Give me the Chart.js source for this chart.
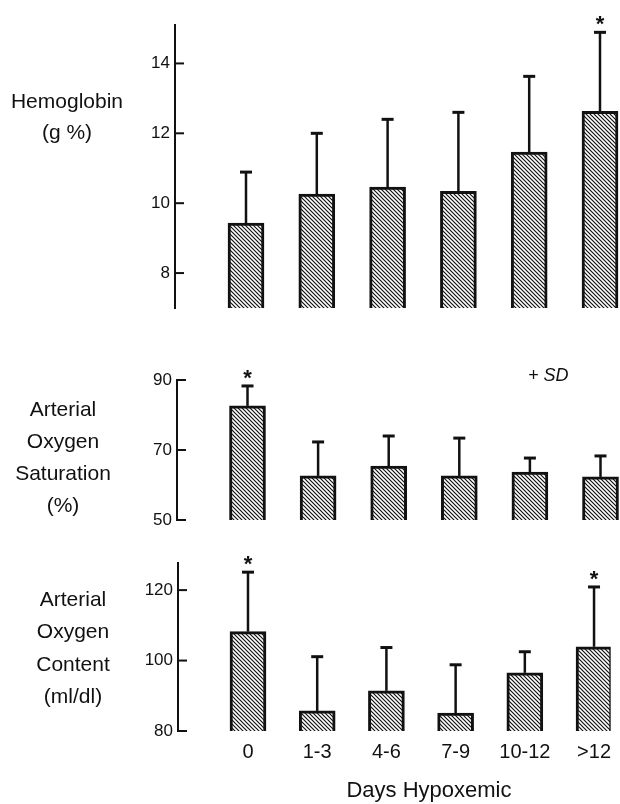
<!DOCTYPE html>
<html><head><meta charset="utf-8">
<script src="https://cdn.jsdelivr.net/npm/chart.js@4.4.1/dist/chart.umd.min.js"></script>
<style>
html,body{margin:0;padding:0;background:#fff;overflow:hidden;width:620px;height:804px;}
canvas{position:absolute;left:0;}
.lbl{position:absolute;font-family:'Liberation Sans',Arial,sans-serif;font-size:21px;color:#111;text-align:center;white-space:nowrap;}
</style></head><body>
<canvas id="c1" width="620" height="330" style="top:0px"></canvas>
<canvas id="c2" width="620" height="210" style="top:330px"></canvas>
<canvas id="c3" width="620" height="264" style="top:540px"></canvas>
<div class="lbl" style="left:-3px;top:85px;width:140px;line-height:31px;">Hemoglobin<br>(g %)</div>
<div class="lbl" style="left:-7px;top:393px;width:140px;line-height:32px;">Arterial<br>Oxygen<br>Saturation<br>(%)</div>
<div class="lbl" style="left:3px;top:583px;width:140px;line-height:32.3px;">Arterial<br>Oxygen<br>Content<br>(ml/dl)</div>
<div class="lbl" style="left:528px;top:365px;width:60px;line-height:20px;font-size:18px;font-style:italic;text-align:left;">+ SD</div>
<div class="lbl" style="left:329px;top:777px;width:200px;line-height:26px;font-size:22px;">Days Hypoxemic</div>
<script>
const days = ['0', '1-3', '4-6', '7-9', '10-12', '>12'];

const hemoglobin   = [9.43, 10.26, 10.46, 10.34, 11.46, 12.63];
const hemoglobinSD = [1.46, 1.74, 1.94, 2.26, 2.17, 2.26];
const hemoglobinSig = [false, false, false, false, false, true];
const hemoglobinTicks = [8, 10, 12, 14];

const saturation   = [82.6, 62.6, 65.4, 62.6, 63.7, 62.3];
const saturationSD = [5.7, 9.7, 8.6, 10.8, 4.0, 6.0];
const saturationSig = [true, false, false, false, false, false];
const saturationTicks = [50, 70, 90];

const content   = [108.2, 85.7, 91.4, 85.1, 96.5, 103.9];
const contentSD = [16.9, 15.4, 12.3, 13.7, 6.0, 17.0];
const contentSig = [true, false, false, false, false, true];
const contentTicks = [80, 100, 120];

const FONT = "'Liberation Sans', Arial, sans-serif";

function hatchTile(){
  const c = document.createElement('canvas'); c.width = 4; c.height = 4;
  const g = c.getContext('2d');
  g.fillStyle = '#fff'; g.fillRect(0,0,4,4);
  g.strokeStyle = '#111'; g.lineWidth = 1.2;
  g.beginPath();
  g.moveTo(-1,-1); g.lineTo(5,5);
  g.moveTo(-1,3); g.lineTo(1,5);
  g.moveTo(3,-1); g.lineTo(5,1);
  g.stroke();
  return c;
}

function panel(id, p){
  const ctx = document.getElementById(id).getContext('2d');
  const pattern = ctx.createPattern(hatchTile(), 'repeat');
  const xmin = (p.axisX - p.firstX) / p.step;
  const xmax = (620 - p.firstX) / p.step;
  return new Chart(ctx, {
    type: 'bar',
    data: { datasets: [{
      data: p.values.map((v, i) => ({ x: i, y: v })),
      backgroundColor: pattern, borderColor: '#111', borderWidth: 3,
      borderSkipped: 'start', barThickness: 36
    }]},
    options: {
      responsive: false, animation: false, devicePixelRatio: 1,
      layout: { padding: { top: p.padTop, bottom: p.padBottom, left: 0, right: 0 }, autoPadding: false },
      plugins: { legend: { display: false }, tooltip: { enabled: false } },
      scales: {
        x: {
          type: 'linear', min: xmin, max: xmax, display: p.showX, offset: false,
          grid: { display: false, drawTicks: false, offset: false }, border: { display: false },
          afterBuildTicks: s => { s.ticks = days.map((d, i) => ({ value: i })); },
          ticks: { autoSkip: false, maxRotation: 0, padding: p.xPad || 0, color: '#111',
                   font: { family: FONT, size: 20 }, callback: v => days[v] },
          afterFit: s => { if (p.showX) s.height = p.xHeight; }
        },
        y: {
          min: p.min, max: p.max,
          grid: { display: false, drawTicks: false },
          border: { display: true, color: '#111', width: 2 },
          afterBuildTicks: s => { s.ticks = p.ticks.map(v => ({ value: v })); },
          ticks: { padding: 5, color: '#111', font: { family: FONT, size: 17 } },
          afterFit: s => { s.width = p.axisX; }
        }
      }
    },
    plugins: [{
      id: 'errbars',
      afterDatasetsDraw(chart){
        const { ctx } = chart; const xs = chart.scales.x, ys = chart.scales.y;
        ctx.save();
        ctx.strokeStyle = '#111'; ctx.fillStyle = '#111';
        p.values.forEach((v, i) => {
          const px = xs.getPixelForValue(i);
          const y0 = ys.getPixelForValue(v), y1 = ys.getPixelForValue(v + p.sd[i]);
          ctx.lineWidth = 2.5;
          ctx.beginPath(); ctx.moveTo(px, y0); ctx.lineTo(px, y1); ctx.stroke();
          ctx.lineWidth = 3;
          ctx.beginPath(); ctx.moveTo(px - 6, y1); ctx.lineTo(px + 6, y1); ctx.stroke();
          if (p.sig[i]) {
            ctx.font = 'bold 22px ' + FONT; ctx.textAlign = 'center'; ctx.textBaseline = 'alphabetic';
            ctx.fillText('*', px, y1 - 1);
          }
        });
        ctx.lineWidth = 2;
        p.ticks.forEach(t => {
          const py = ys.getPixelForValue(t);
          ctx.beginPath(); ctx.moveTo(ys.right, py); ctx.lineTo(ys.right + 9, py); ctx.stroke();
        });
        ctx.restore();
      }
    }]
  });
}

panel('c1', { values: hemoglobin, sd: hemoglobinSD, sig: hemoglobinSig, ticks: hemoglobinTicks,
  min: 7, max: 15.1, axisX: 175, firstX: 246, step: 70.8, padTop: 25, padBottom: 22, showX: false });
panel('c2', { values: saturation, sd: saturationSD, sig: saturationSig, ticks: saturationTicks,
  min: 50, max: 90, axisX: 177, firstX: 247.5, step: 70.6, padTop: 50, padBottom: 20, showX: false });
panel('c3', { values: content, sd: contentSD, sig: contentSig, ticks: contentTicks,
  min: 80, max: 127.7, axisX: 178, firstX: 249.5, step: 70.7, padTop: 23, padBottom: 0,
  showX: true, xHeight: 73, xPad: 9 });
</script>
</body></html>
